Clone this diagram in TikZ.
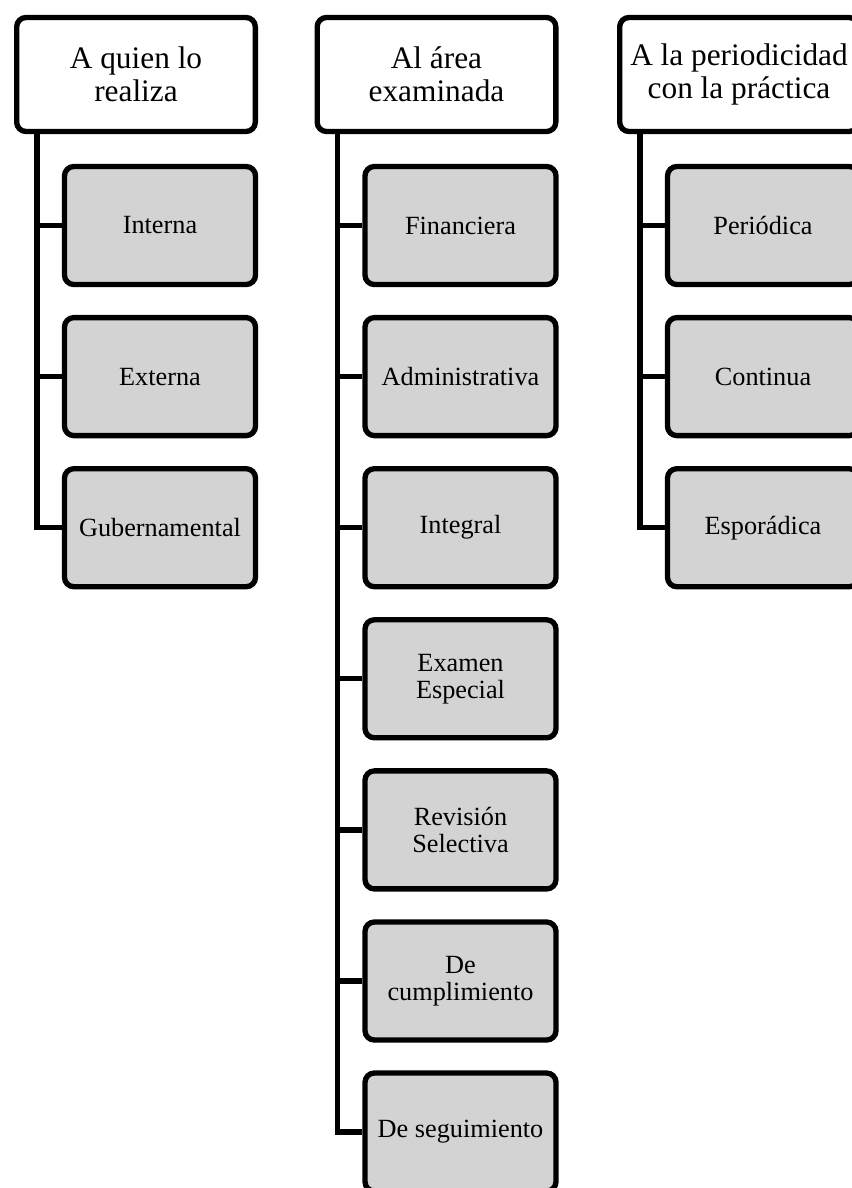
\documentclass[tikz,border=0pt]{standalone}
\usepackage{fontspec}
\setmainfont{Liberation Serif}
\usepackage{tikz}
\definecolor{boxgray}{RGB}{211,211,211}
\pgfkeys{tikz/headbox/.style={draw, line width=4pt, 
                                  rounded corners=7pt, 
                                  fill=white, align=center, 
                                  minimum width=179pt, minimum height=85.5pt, 
                                  font=\fontsize{23.5}{25}\selectfont}}
\pgfkeys{tikz/itembox/.style={draw, line width=4pt, 
                                  rounded corners=7pt, 
                                  fill=boxgray, align=center, 
                                  minimum width=143.25pt, minimum height=88.5pt, 
                                  font=\fontsize{19.7}{20.2}\selectfont}}
\pgfkeys{tikz/branch/.style={line width=3.9pt}}

\begin{document}
\begin{tikzpicture}[x=0.75pt, y=-0.75pt]
            \useasboundingbox (0,0) rectangle (852,1188);
            \clip (0,0) rectangle (852,1188);

            \node[headbox] (top1) at (136, 74.5)  {A quien lo\\realiza};
            \node[headbox] (top2) at (436.5, 74.5)  {Al área\\examinada};
            \node[headbox] (top3) at (739, 74.5)  {A la periodicidad\\con la práctica};

            \coordinate (t1) at ([xshift=17.25pt]top1.south west);
            \coordinate (t2) at ([xshift=17.25pt]top2.south west);
            \coordinate (t3) at ([xshift=17.25pt]top3.south west);

                    \node[itembox] (n1) at (160, 225.5)  {Interna};
                    \node[itembox] (n2) at (160, 376.6)  {Externa};
                    \node[itembox] (n3) at (160, 527.7)  {Gubernamental};

                    \draw[branch] (t1) |- (n1.west);
                    \draw[branch] (t1) |- (n2.west);
                    \draw[branch] (t1) |- (n3.west);

                    \node[itembox] (n4) at (460.5, 225.5)  {Financiera};
                    \node[itembox] (n5) at (460.5, 376.6)  {Administrativa};
                    \node[itembox] (n6) at (460.5, 527.7)  {Integral};
                    \node[itembox] (n7) at (460.5, 678.8)  {Examen\\Especial};
                    \node[itembox] (n8) at (460.5, 829.9)  {Revisión\\Selectiva};
                    \node[itembox] (n9) at (460.5, 981)  {De\\cumplimiento};
                    \node[itembox] (n10) at (460.5, 1132)  {De seguimiento};

                    \draw[branch] (t2) |- (n4.west);
                    \draw[branch] (t2) |- (n5.west);
                    \draw[branch] (t2) |- (n6.west);
                    \draw[branch] (t2) |- (n7.west);
                    \draw[branch] (t2) |- (n8.west);
                    \draw[branch] (t2) |- (n9.west);
                    \draw[branch] (t2) |- (n10.west);

                    \node[itembox] (n11) at (763, 225.5)  {Periódica};
                    \node[itembox] (n12) at (763, 376.6)  {Continua};
                    \node[itembox] (n13) at (763, 527.7)  {Esporádica};

                    \draw[branch] (t3) |- (n11.west);
                    \draw[branch] (t3) |- (n12.west);
                    \draw[branch] (t3) |- (n13.west);
\end{tikzpicture}
\end{document}
